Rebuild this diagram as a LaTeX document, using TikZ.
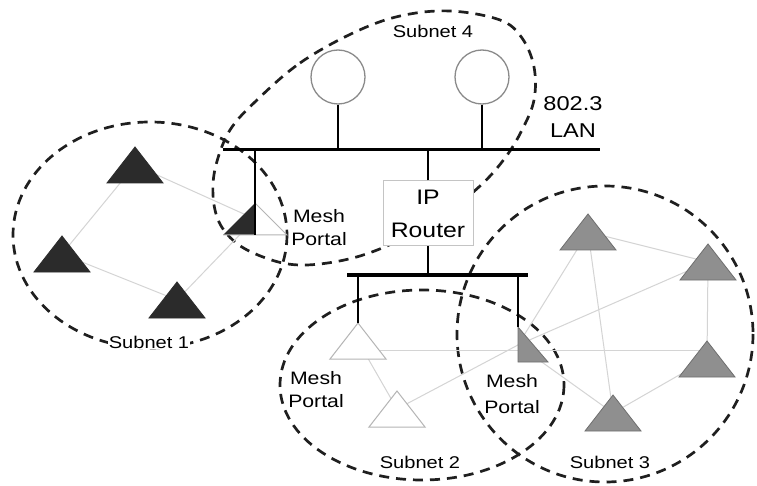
\documentclass[tikz,border=0pt]{standalone}
\usepackage{fontspec}
\setmainfont{Liberation Sans}
\usetikzlibrary{calc}
\definecolor{darkfill}{HTML}{2B2B2B}
\definecolor{midgray}{HTML}{8F8F8F}
\definecolor{grayedge}{HTML}{6E6E6E}
\definecolor{lightedge}{HTML}{B4B4B4}
\definecolor{linkgray}{HTML}{D4D4D4}
\definecolor{boxedge}{HTML}{C4C4C4}
\definecolor{circedge}{HTML}{8A8A8A}
\newcommand\hs[1]{\scalebox{1.18}[1]{#1}}
\newcommand\tri[2]{\filldraw[#2] ($(#1)+(-28,18)$) -- ($(#1)+(0,-18)$) -- ($(#1)+(28,18)$) -- cycle;}
\tikzset{
  subnet/.style={draw=black!88, line width=2.7, dash pattern=on 10pt off 7pt},
  link/.style={draw=linkgray, line width=1},
  darktri/.style={fill=darkfill, draw=darkfill, line width=0.8},
  graytri/.style={fill=midgray, draw=grayedge, line width=0.8},
  whitetri/.style={fill=white, draw=lightedge, line width=1},
  bus/.style={draw=black, line width=3},
  stem/.style={draw=black, line width=2.4},
  lbl/.style={font=\fontsize{18}{23}\selectfont, align=center, inner sep=0.5pt},
  sublbl/.style={font=\fontsize{17}{20}\selectfont, fill=white, inner sep=0.5pt},
  station/.style={circle, draw=circedge, line width=1.3, fill=white, minimum size=54pt, inner sep=0pt},
  routerbox/.style={rectangle, draw=boxedge, line width=1, fill=white, minimum width=90pt, minimum height=65pt, inner sep=0pt}
}
\begin{document}
\begin{tikzpicture}[x=1pt,y=-1pt]
\useasboundingbox (0,0) rectangle (757,486);
\fill[white] (0,0) rectangle (757,486);

% subnet centres
\coordinate (S1) at (150,235);
\coordinate (S2) at (422,385);
\coordinate (S3) at (605,334);

% device positions
\coordinate (A) at (135,165);
\coordinate (B) at (62,254);
\coordinate (C) at (177,300);
\coordinate (P1) at (255,219);
\coordinate (W1) at (358,341);
\coordinate (W2) at (397,409);
\coordinate (P3) at (518,345);
\coordinate (T1) at (588,232);
\coordinate (T2) at (708,262);
\coordinate (T3) at (707,359);
\coordinate (T4) at (613,413);

% bus ends
\coordinate (lanL) at (223,150);
\coordinate (lanR) at (600,150);
\coordinate (busL) at (347,275);
\coordinate (busR) at (528,275);

% subnet boundaries
\draw[subnet] (S1) ellipse [x radius=137, y radius=113];
\draw[subnet] (S2) ellipse [x radius=142, y radius=95];
\draw[subnet] (S3) circle [radius=148];
\draw[subnet] plot[smooth cycle, tension=0.6] coordinates {
  (257,100) (300,63) (353,33) (400,16) (450,11) (500,20) (522,38) (534,67)
  (534,100) (522,130) (505,158) (480,186) (440,218) (400,240) (360,256)
  (320,264) (288,264) (258,255) (235,242) (219,222) (213,195) (216,165) (230,130)};

% wireless links
\draw[link] (A) -- (B);
\draw[link] (A) -- (P1);
\draw[link] (B) -- (C);
\draw[link] (C) -- (P1);
\draw[link] (W1) -- (W2);
\draw[link] ($(W1)+(0,9)$) -- ($(T3)+(0,-9)$);
\draw[link] (W2) -- (P3);
\draw[link] (P3) -- (T1);
\draw[link] (P3) -- (T2);
\draw[link] (P3) -- (T4);
\draw[link] (T1) -- (T2);
\draw[link] (T1) -- (T4);
\draw[link] (T2) -- (T3);
\draw[link] (T3) -- (T4);

% subnet 1 nodes
\tri{A}{darktri}
\tri{B}{darktri}
\tri{C}{darktri}
% subnet 3 nodes
\tri{T1}{graytri}
\tri{T2}{graytri}
\tri{T3}{graytri}
\tri{T4}{graytri}
% subnet 2 nodes
\tri{W1}{whitetri}
\tri{W2}{whitetri}

% mesh portal of subnet 1 (half dark, half outlined)
\fill[white] ($(P1)+(-32,16)$) -- ($(P1)+(0,-16)$) -- ($(P1)+(32,16)$) -- cycle;
\fill[darkfill] ($(P1)+(-32,16)$) -- ($(P1)+(0,-16)$) -- ($(P1)+(0,16)$) -- cycle;
\draw[lightedge, line width=1] ($(P1)+(0,-16)$) -- ($(P1)+(32,16)$) -- ($(P1)+(-32,16)$);
% mesh portal between subnets 2 and 3 (gray half)
\filldraw[graytri] ($(P3)+(0,-18)$) -- ($(P3)+(30,17)$) -- ($(P3)+(0,17)$) -- cycle;

% wired LAN
\node[station] (st1) at (338,77) {};
\node[station] (st2) at (482,77) {};
\node[routerbox] (rt) at (428,213.5) {};
\draw[bus] (lanL) -- (lanR);
\draw[stem] (st1.south) -- (st1.south |- lanL);
\draw[stem] (st2.south) -- (st2.south |- lanL);
\draw[stem] (P1 |- lanL) -- ($(P1)+(0,16)$);
\draw[stem] (rt.north) -- (rt.north |- lanL);
\draw[stem] (rt.south) -- (rt.south |- busL);
\draw[bus, line width=4] (busL) -- (busR);
\draw[stem] (W1 |- busL) -- ($(W1)+(0,-18)$);
\draw[stem] (P3 |- busL) -- ($(P3)+(0,-18)$);

% texts
\node[lbl, font=\fontsize{21}{33}\selectfont] (rtxt) at (rt.center) {\hs{IP}\\\hs{Router}};
\node[lbl, font=\fontsize{20}{27}\selectfont] (lan) at (573,117) {\hs{802.3}\\\hs{LAN}};
\node[lbl] (mp1) at (319,228) {\hs{Mesh}\\\hs{Portal}};
\node[lbl] (mp2) at (316,390) {\hs{Mesh}\\\hs{Portal}};
\node[lbl, font=\fontsize{18}{26}\selectfont] (mp3) at (512,394) {\hs{Mesh}\\\hs{Portal}};
\node[sublbl] (n1) at (149,342) {\hs{Subnet 1}};
\node[sublbl] (n2) at (420,462) {\hs{Subnet 2}};
\node[sublbl] (n3) at (610,462) {\hs{Subnet 3}};
\node[sublbl] (n4) at (433,31) {\hs{Subnet 4}};
\end{tikzpicture}
\end{document}
